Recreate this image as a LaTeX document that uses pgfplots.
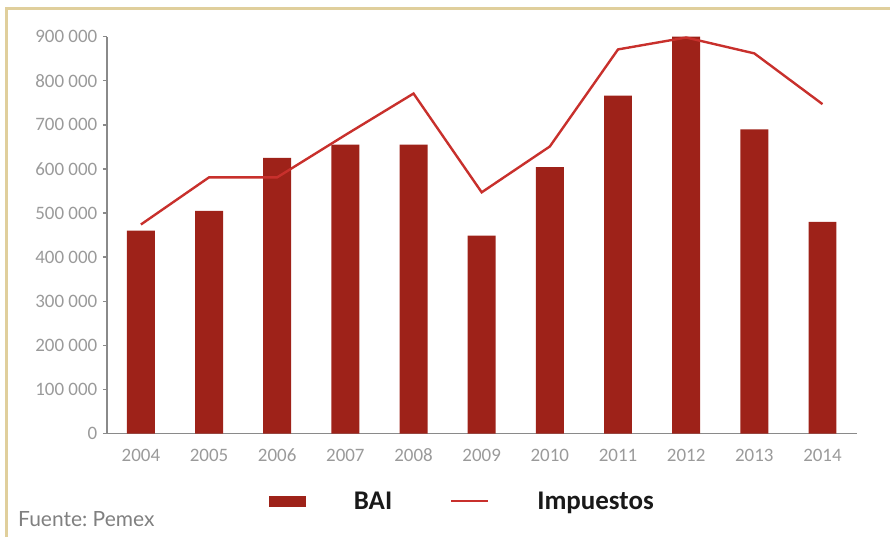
\documentclass[border=0pt]{standalone}
\usepackage{pgfplots}
\pgfplotsset{compat=1.18}
\usepackage{fontspec}
\setmainfont{Carlito}
\newfontfamily\srcfont{Lato}
\frenchspacing

\definecolor{barred}{HTML}{9E2219}
\definecolor{linered}{HTML}{C8302C}
\definecolor{frametan}{HTML}{E0CF9C}
\definecolor{ticktext}{HTML}{9A9A9A}
\definecolor{axisgray}{HTML}{8A8A8A}

\begin{document}
\begin{tikzpicture}[x=1pt,y=1pt]
\path (0,0) rectangle (891,538);
\draw[frametan, line width=3pt] (7,0) -- (7,529) -- (891,529);
\node[anchor=base west, text=gray, inner sep=0pt,
      font=\srcfont\fontsize{21}{24}\selectfont] at (18,11) {Fuente: Pemex};
\begin{axis}[
  at={(107pt,103.7pt)}, anchor=south west,
  scale only axis, width=751pt, height=397.6pt,
  xmin=-0.5, xmax=10.5, ymin=0, ymax=900000,
  axis x line*=bottom, axis y line*=left,
  axis line style={-, draw=axisgray, line width=1.6pt},
  xtick={0,...,10},
  xticklabels={2004,2005,2006,2007,2008,2009,2010,2011,2012,2013,2014},
  minor xtick={-0.5,0.5,...,10.5},
  x tick style={draw=none},
  minor tick length=5pt,
  every minor tick/.append style={draw=axisgray, line width=1.4pt},
  ytick={0,100000,200000,300000,400000,500000,600000,700000,800000,900000},
  yticklabels={0,100 000,200 000,300 000,400 000,500 000,600 000,700 000,800 000,900 000},
  y tick style={draw=axisgray, line width=1.4pt},
  major tick length=4pt,
  tick align=outside,
  scaled y ticks=false,
  ticklabel style={font=\fontsize{19}{22}\selectfont, text=ticktext},
  xticklabel style={text height=13pt, text depth=2pt},
  xticklabel shift=7pt,
  yticklabel shift=2pt,
  clip=false,
  legend columns=2,
  legend style={at={(0.216,-0.170)}, anchor=west, draw=none, fill=none,
    inner sep=0pt, text=black!90,
    font=\bfseries\fontsize{27}{30}\selectfont,
    /tikz/every odd column/.append style={column sep=46pt},
    /tikz/every even column/.append style={column sep=56pt}},
]
\addplot[ybar, bar width=28pt, fill=barred, draw=none,
  legend image code/.code={\fill[barred] (0pt,-5.5pt) rectangle (37pt,5.5pt);}]
  coordinates {
  (0,460000) (1,505000) (2,625000) (3,655000) (4,655000) (5,449000)
  (6,604000) (7,766000) (8,900000) (9,690000) (10,480000)
};
\addplot[linered, line width=2.4pt, mark=none,
  legend image code/.code={\draw[linered, line width=2.4pt] (0pt,0pt) -- (37pt,0pt);}]
  coordinates {
  (0,474000) (1,581000) (2,581000) (3,677000) (4,771000) (5,547000)
  (6,651000) (7,871000) (8,898000) (9,862000) (10,747000)
};
\legend{BAI, Impuestos}
\end{axis}
\end{tikzpicture}
\end{document}
